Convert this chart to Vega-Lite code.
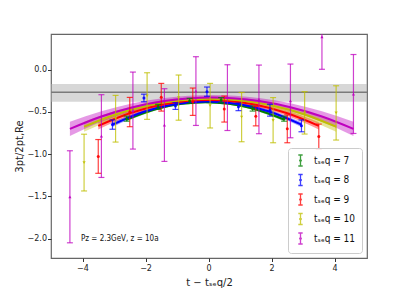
{
  "$schema": "https://vega.github.io/schema/vega-lite/v6.json",
  "width": 316,
  "height": 224,
  "autosize": {"type": "none"},
  "padding": {"left": 51, "top": 34, "right": 40, "bottom": 33},
  "background": "white",
  "config": {
    "font": "DejaVu Sans",
    "view": {"stroke": "#666666", "strokeWidth": 1.2},
    "axis": {"grid": false, "domain": false, "tickColor": "#333333", "tickSize": 3.5, "labelFontSize": 8, "labelColor": "#222222", "titleFontSize": 10, "titleFontWeight": "normal", "titleColor": "#222222"}
  },
  "datasets": {
    "pts": [
      {"tseq": 7, "x": -2.6, "y": -0.58, "lo": -0.61, "hi": -0.55},
      {"tseq": 7, "x": -1.6, "y": -0.44, "lo": -0.47, "hi": -0.41},
      {"tseq": 7, "x": -0.6, "y": -0.37, "lo": -0.40, "hi": -0.34},
      {"tseq": 7, "x": 0.4, "y": -0.36, "lo": -0.39, "hi": -0.33},
      {"tseq": 7, "x": 1.4, "y": -0.46, "lo": -0.49, "hi": -0.43},
      {"tseq": 7, "x": 2.4, "y": -0.58, "lo": -0.61, "hi": -0.55},
      {"tseq": 8, "x": -3.05, "y": -0.65, "lo": -0.705, "hi": -0.595},
      {"tseq": 8, "x": -2.05, "y": -0.335, "lo": -0.38, "hi": -0.29},
      {"tseq": 8, "x": -1.05, "y": -0.43, "lo": -0.47, "hi": -0.39},
      {"tseq": 8, "x": -0.05, "y": -0.26, "lo": -0.315, "hi": -0.205},
      {"tseq": 8, "x": 0.95, "y": -0.44, "lo": -0.485, "hi": -0.395},
      {"tseq": 8, "x": 1.95, "y": -0.48, "lo": -0.55, "hi": -0.41},
      {"tseq": 8, "x": 2.95, "y": -0.665, "lo": -0.735, "hi": -0.595},
      {"tseq": 9, "x": -3.5, "y": -1.027, "lo": -1.227, "hi": -0.827},
      {"tseq": 9, "x": -2.5, "y": -0.50, "lo": -0.675, "hi": -0.328},
      {"tseq": 9, "x": -1.5, "y": -0.326, "lo": -0.49, "hi": -0.162},
      {"tseq": 9, "x": -0.5, "y": -0.379, "lo": -0.541, "hi": -0.217},
      {"tseq": 9, "x": 0.5, "y": -0.466, "lo": -0.62, "hi": -0.312},
      {"tseq": 9, "x": 1.5, "y": -0.55, "lo": -0.665, "hi": -0.435},
      {"tseq": 9, "x": 2.5, "y": -0.70, "lo": -0.865, "hi": -0.535},
      {"tseq": 9, "x": 3.5, "y": -0.79, "lo": -0.94, "hi": -0.644},
      {"tseq": 10, "x": -3.95, "y": -1.10, "lo": -1.436, "hi": -0.764},
      {"tseq": 10, "x": -2.95, "y": -0.58, "lo": -0.857, "hi": -0.304},
      {"tseq": 10, "x": -1.95, "y": -0.31, "lo": -0.588, "hi": -0.036},
      {"tseq": 10, "x": -0.95, "y": -0.33, "lo": -0.598, "hi": -0.063},
      {"tseq": 10, "x": 0.05, "y": -0.426, "lo": -0.69, "hi": -0.162},
      {"tseq": 10, "x": 1.05, "y": -0.56, "lo": -0.853, "hi": -0.27},
      {"tseq": 10, "x": 2.05, "y": -0.60, "lo": -0.865, "hi": -0.33},
      {"tseq": 10, "x": 3.05, "y": -0.51, "lo": -0.762, "hi": -0.26},
      {"tseq": 10, "x": 4.05, "y": -0.51, "lo": -0.833, "hi": -0.19},
      {"tseq": 11, "x": -4.4, "y": -1.505, "lo": -2.05, "hi": -0.96},
      {"tseq": 11, "x": -3.4, "y": -0.786, "lo": -1.276, "hi": -0.296},
      {"tseq": 11, "x": -2.4, "y": -0.484, "lo": -0.94, "hi": -0.028},
      {"tseq": 11, "x": -1.4, "y": -0.655, "lo": -1.086, "hi": -0.225},
      {"tseq": 11, "x": -0.4, "y": -0.253, "lo": -0.66, "hi": 0.154},
      {"tseq": 11, "x": 0.6, "y": -0.33, "lo": -0.72, "hi": 0.059},
      {"tseq": 11, "x": 1.6, "y": -0.35, "lo": -0.758, "hi": 0.055},
      {"tseq": 11, "x": 2.6, "y": -0.37, "lo": -0.806, "hi": 0.067},
      {"tseq": 11, "x": 3.6, "y": 0.39, "lo": 0.005, "hi": 0.775},
      {"tseq": 11, "x": 4.6, "y": -0.29, "lo": -0.755, "hi": 0.18}
    ],
    "fit": [
      {"tseq": 7, "x": -2.6, "f": -0.590, "lo": -0.610, "hi": -0.571},
      {"tseq": 7, "x": -1.6, "f": -0.459, "lo": -0.474, "hi": -0.444},
      {"tseq": 7, "x": -0.85, "f": -0.404, "lo": -0.416, "hi": -0.391},
      {"tseq": 7, "x": -0.1, "f": -0.385, "lo": -0.397, "hi": -0.373},
      {"tseq": 7, "x": 0.65, "f": -0.404, "lo": -0.416, "hi": -0.391},
      {"tseq": 7, "x": 1.4, "f": -0.459, "lo": -0.474, "hi": -0.444},
      {"tseq": 7, "x": 2.4, "f": -0.590, "lo": -0.610, "hi": -0.571},
      {"tseq": 8, "x": -3.05, "f": -0.650, "lo": -0.679, "hi": -0.622},
      {"tseq": 8, "x": -2.05, "f": -0.497, "lo": -0.518, "hi": -0.476},
      {"tseq": 8, "x": -1.05, "f": -0.406, "lo": -0.422, "hi": -0.389},
      {"tseq": 8, "x": -0.05, "f": -0.375, "lo": -0.390, "hi": -0.360},
      {"tseq": 8, "x": 0.95, "f": -0.406, "lo": -0.422, "hi": -0.389},
      {"tseq": 8, "x": 1.95, "f": -0.497, "lo": -0.518, "hi": -0.476},
      {"tseq": 8, "x": 2.95, "f": -0.650, "lo": -0.679, "hi": -0.622},
      {"tseq": 9, "x": -3.5, "f": -0.665, "lo": -0.709, "hi": -0.621},
      {"tseq": 9, "x": -2.5, "f": -0.516, "lo": -0.549, "hi": -0.483},
      {"tseq": 9, "x": -1.5, "f": -0.416, "lo": -0.442, "hi": -0.390},
      {"tseq": 9, "x": -0.75, "f": -0.374, "lo": -0.397, "hi": -0.351},
      {"tseq": 9, "x": 0, "f": -0.360, "lo": -0.382, "hi": -0.338},
      {"tseq": 9, "x": 0.75, "f": -0.374, "lo": -0.397, "hi": -0.351},
      {"tseq": 9, "x": 1.5, "f": -0.416, "lo": -0.442, "hi": -0.390},
      {"tseq": 9, "x": 2.5, "f": -0.516, "lo": -0.549, "hi": -0.483},
      {"tseq": 9, "x": 3.5, "f": -0.665, "lo": -0.709, "hi": -0.621},
      {"tseq": 10, "x": -3.95, "f": -0.675, "lo": -0.735, "hi": -0.615},
      {"tseq": 10, "x": -2.95, "f": -0.530, "lo": -0.575, "hi": -0.485},
      {"tseq": 10, "x": -1.95, "f": -0.427, "lo": -0.461, "hi": -0.393},
      {"tseq": 10, "x": -0.95, "f": -0.366, "lo": -0.393, "hi": -0.339},
      {"tseq": 10, "x": 0.05, "f": -0.345, "lo": -0.370, "hi": -0.320},
      {"tseq": 10, "x": 1.05, "f": -0.366, "lo": -0.393, "hi": -0.339},
      {"tseq": 10, "x": 2.05, "f": -0.427, "lo": -0.461, "hi": -0.393},
      {"tseq": 10, "x": 3.05, "f": -0.530, "lo": -0.575, "hi": -0.485},
      {"tseq": 10, "x": 4.05, "f": -0.675, "lo": -0.735, "hi": -0.615},
      {"tseq": 11, "x": -4.4, "f": -0.701, "lo": -0.786, "hi": -0.616},
      {"tseq": 11, "x": -3.4, "f": -0.554, "lo": -0.617, "hi": -0.491},
      {"tseq": 11, "x": -2.4, "f": -0.444, "lo": -0.491, "hi": -0.397},
      {"tseq": 11, "x": -1.4, "f": -0.371, "lo": -0.407, "hi": -0.335},
      {"tseq": 11, "x": -0.65, "f": -0.340, "lo": -0.372, "hi": -0.309},
      {"tseq": 11, "x": 0.1, "f": -0.330, "lo": -0.360, "hi": -0.300},
      {"tseq": 11, "x": 0.85, "f": -0.340, "lo": -0.372, "hi": -0.309},
      {"tseq": 11, "x": 1.6, "f": -0.371, "lo": -0.407, "hi": -0.335},
      {"tseq": 11, "x": 2.6, "f": -0.444, "lo": -0.491, "hi": -0.397},
      {"tseq": 11, "x": 3.6, "f": -0.554, "lo": -0.617, "hi": -0.491},
      {"tseq": 11, "x": 4.6, "f": -0.701, "lo": -0.786, "hi": -0.616}
    ]
  },
  "layer": [
    {
      "data": {"values": [{"lo": -0.379, "hi": -0.170}]},
      "mark": {"type": "rect", "color": "#b0b0b0", "opacity": 0.5},
      "encoding": {
        "y": {"field": "lo", "type": "quantitative", "scale": {"domain": [-2.23, 0.423], "nice": false, "zero": false},
          "axis": {"values": [0, -0.5, -1, -1.5, -2], "format": ".1f", "labelExpr": "replace(datum.label, '-', '−')", "title": "3pt/2pt,Re", "labelPadding": 1, "titlePadding": 3}},
        "y2": {"field": "hi"}
      }
    },
    {
      "data": {"values": [{}]},
      "mark": {"type": "rule", "color": "#7a7a7a", "strokeWidth": 1.5},
      "encoding": {"y": {"datum": -0.268, "type": "quantitative"}}
    },
    {
      "data": {"name": "fit"},
      "mark": {"type": "area", "interpolate": "monotone", "opacity": 0.4, "clip": true},
      "encoding": {
        "x": {"field": "x", "type": "quantitative", "scale": {"domain": [-5, 5.03], "nice": false, "zero": false},
          "axis": {"values": [-4, -2, 0, 2, 4], "format": "d", "labelExpr": "replace(datum.label, '-', '−')", "title": "t − tₛₑq/2", "labelPadding": 3, "titlePadding": 5}},
        "y": {"field": "lo", "type": "quantitative"},
        "y2": {"field": "hi"},
        "color": {"field": "tseq", "type": "nominal", "scale": {"domain": [7, 8, 9, 10, 11], "range": ["#008000", "#0000ff", "#ff0000", "#bfbf00", "#bf00bf"]},
          "legend": {"title": null, "orient": "bottom-right", "offset": 5, "fillColor": "rgba(255,255,255,0.85)", "strokeColor": "#cccccc", "cornerRadius": 3, "padding": 6,
            "symbolType": "M0,-1V1M-0.4,-1H0.4M-0.4,1H0.4M-0.15,0A0.15,0.15,0,1,0,0.15,0A0.15,0.15,0,1,0,-0.15,0",
            "symbolSize": 121, "symbolStrokeWidth": 1.3, "symbolOpacity": 0.85, "labelFontSize": 10, "labelFont": "DejaVu Sans Condensed, DejaVu Sans", "labelOffset": 7, "rowPadding": 2.5, "labelColor": "#111111",
            "labelExpr": "'tₛₑq = ' + datum.label"}}
      }
    },
    {
      "data": {"name": "fit"},
      "mark": {"type": "line", "interpolate": "monotone", "strokeWidth": 2, "clip": true},
      "encoding": {
        "x": {"field": "x", "type": "quantitative"},
        "y": {"field": "f", "type": "quantitative"},
        "color": {"field": "tseq", "type": "nominal"}
      }
    },
    {
      "data": {"name": "pts"},
      "mark": {"type": "rule", "strokeWidth": 1.2, "opacity": 0.75, "clip": true},
      "encoding": {
        "x": {"field": "x", "type": "quantitative"},
        "y": {"field": "lo", "type": "quantitative"},
        "y2": {"field": "hi"},
        "color": {"field": "tseq", "type": "nominal"}
      }
    },
    {
      "data": {"name": "pts"},
      "mark": {"type": "tick", "orient": "horizontal", "size": 6, "thickness": 1.2, "opacity": 0.75, "clip": true},
      "encoding": {
        "x": {"field": "x", "type": "quantitative"},
        "y": {"field": "lo", "type": "quantitative"},
        "color": {"field": "tseq", "type": "nominal"}
      }
    },
    {
      "data": {"name": "pts"},
      "mark": {"type": "tick", "orient": "horizontal", "size": 6, "thickness": 1.2, "opacity": 0.75, "clip": true},
      "encoding": {
        "x": {"field": "x", "type": "quantitative"},
        "y": {"field": "hi", "type": "quantitative"},
        "color": {"field": "tseq", "type": "nominal"}
      }
    },
    {
      "data": {"name": "pts"},
      "transform": [{"filter": "datum.tseq <= 9"}],
      "mark": {"type": "point", "shape": "circle", "filled": true, "size": 9, "opacity": 0.9, "clip": true},
      "encoding": {
        "x": {"field": "x", "type": "quantitative"},
        "y": {"field": "y", "type": "quantitative"},
        "color": {"field": "tseq", "type": "nominal"}
      }
    },
    {
      "data": {"name": "pts"},
      "transform": [{"filter": "datum.tseq == 10"}],
      "mark": {"type": "point", "shape": "triangle-down", "filled": true, "size": 10, "opacity": 0.9, "clip": true},
      "encoding": {
        "x": {"field": "x", "type": "quantitative"},
        "y": {"field": "y", "type": "quantitative"},
        "color": {"field": "tseq", "type": "nominal"}
      }
    },
    {
      "data": {"name": "pts"},
      "transform": [{"filter": "datum.tseq == 11"}],
      "mark": {"type": "point", "shape": "triangle-up", "filled": true, "size": 10, "opacity": 0.9, "clip": true},
      "encoding": {
        "x": {"field": "x", "type": "quantitative"},
        "y": {"field": "y", "type": "quantitative"},
        "color": {"field": "tseq", "type": "nominal"}
      }
    },
    {
      "data": {"values": [{}]},
      "mark": {"type": "text", "align": "left", "baseline": "middle", "fontSize": 8, "font": "DejaVu Sans Condensed, DejaVu Sans", "color": "#111111"},
      "encoding": {"x": {"datum": -4.05, "type": "quantitative"}, "y": {"datum": -2.0, "type": "quantitative"}, "text": {"value": "Pz = 2.3GeV, z = 10a"}}
    }
  ]
}
